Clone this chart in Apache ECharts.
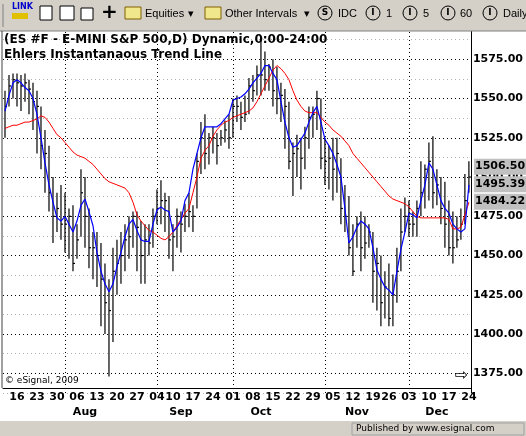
<!DOCTYPE html>
<html>
<head>
<meta charset="utf-8">
<script src="https://cdn.jsdelivr.net/npm/echarts@6/dist/echarts.min.js"></script>
<style>html,body{margin:0;padding:0;background:#fff}#chart{width:526px;height:436px}</style>
</head>
<body>
<div id="chart"></div>
<script>
// trading days Jul 11 - Dec 24 2007, one list per week
const weeks = [
  ["07-11","07-12","07-13"],
  ["07-16","07-17","07-18","07-19","07-20"],
  ["07-23","07-24","07-25","07-26","07-27"],
  ["07-30","07-31","08-01","08-02","08-03"],
  ["08-06","08-07","08-08","08-09","08-10"],
  ["08-13","08-14","08-15","08-16","08-17"],
  ["08-20","08-21","08-22","08-23","08-24"],
  ["08-27","08-28","08-29","08-30","08-31"],
  ["09-04","09-05","09-06","09-07"],
  ["09-10","09-11","09-12","09-13","09-14"],
  ["09-17","09-18","09-19","09-20","09-21"],
  ["09-24","09-25","09-26","09-27","09-28"],
  ["10-01","10-02","10-03","10-04","10-05"],
  ["10-08","10-09","10-10","10-11","10-12"],
  ["10-15","10-16","10-17","10-18","10-19"],
  ["10-22","10-23","10-24","10-25","10-26"],
  ["10-29","10-30","10-31","11-01","11-02"],
  ["11-05","11-06","11-07","11-08","11-09"],
  ["11-12","11-13","11-14","11-15","11-16"],
  ["11-19","11-20","11-21","11-23"],
  ["11-26","11-27","11-28","11-29","11-30"],
  ["12-03","12-04","12-05","12-06","12-07"],
  ["12-10","12-11","12-12","12-13","12-14"],
  ["12-17","12-18","12-19","12-20","12-21"],
  ["12-24"]
];
const dates = [].concat(...weeks);
const weekStarts = weeks.map(w => w[0]);
const monthLabels = {"08-08": "Aug", "09-12": "Sep", "10-10": "Oct", "11-13": "Nov", "12-12": "Dec"};
const monthLines = ["08-01", "09-04", "10-01", "11-01", "12-03"];

const high = [
  1555,1565,1566, 1566,1565,1566,1562,1560, 1555,1545,1530,1520,1500, 1490,1495,1490,1480,1482,
  1470,1505,1500,1480,1465, 1465,1458,1445,1435,1455, 1460,1465,1470,1475,1478, 1478,1472,1470,1470,1480,
  1492,1498,1490,1488, 1470,1480,1478,1483,1490, 1482,1515,1535,1540,1528, 1532,1528,1530,1536,1540,
  1550,1552,1548,1552,1563, 1565,1571,1588,1580,1572, 1575,1570,1560,1556,1548, 1522,1527,1525,1532,1545,
  1545,1555,1550,1525,1520, 1525,1525,1512,1495,1488, 1470,1475,1478,1475,1470, 1465,1455,1450,1440,
  1445,1438,1455,1480,1487, 1485,1478,1485,1510,1508, 1522,1526,1505,1500,1497, 1485,1478,1475,1480,1502, 1510
];
const low = [
  1525,1545,1550, 1545,1542,1548,1540,1530, 1515,1505,1490,1478,1458, 1465,1460,1452,1448,1440,
  1448,1462,1455,1442,1435, 1430,1405,1400,1373,1395, 1425,1432,1440,1448,1455, 1440,1432,1432,1450,1455,
  1470,1470,1465,1448, 1440,1455,1452,1465,1468, 1465,1480,1502,1505,1508, 1515,1508,1520,1522,1518,
  1525,1535,1530,1535,1540, 1548,1552,1552,1555,1555, 1545,1540,1535,1518,1505, 1488,1500,1492,1505,1518,
  1525,1530,1505,1495,1492, 1485,1490,1470,1465,1450, 1437,1455,1440,1448,1455, 1420,1415,1405,1410,
  1405,1405,1420,1440,1465, 1462,1462,1462,1475,1480, 1485,1480,1482,1470,1455, 1450,1445,1455,1460,1470, 1490
];
const close = [
  1545,1558,1562, 1560,1558,1560,1556,1548, 1545,1520,1515,1490,1475, 1480,1470,1470,1475,1445,
  1460,1490,1475,1455,1455, 1450,1435,1420,1415,1440, 1445,1450,1460,1462,1475, 1468,1450,1460,1458,1475,
  1480,1485,1485,1460, 1462,1475,1470,1475,1478, 1475,1510,1525,1515,1525, 1525,1520,1525,1530,1525,
  1545,1545,1538,1540,1558, 1555,1565,1565,1562,1570, 1555,1550,1552,1545,1510, 1515,1518,1512,1525,1538,
  1540,1550,1512,1510,1512, 1505,1515,1480,1475,1455, 1440,1470,1455,1458,1465, 1440,1445,1420,1430,
  1410,1425,1440,1465,1475, 1470,1470,1480,1490,1505, 1510,1490,1495,1480,1470, 1455,1455,1460,1470,1485, 1500
];
const trend = [ // blue
  1542,1552,1560, 1562,1560,1557,1555,1550, 1540,1525,1509,1495,1484, 1474,1472,1475,1470,1465,
  1472,1482,1486,1478,1469, 1452,1440,1432,1427,1432, 1443,1452,1462,1470,1473, 1466,1460,1459,1459,1470,
  1479,1481,1479,1478, 1465,1468,1472,1485,1490, 1505,1515,1525,1532,1532, 1532,1532,1534,1537,1540,
  1549,1550,1551,1553,1556, 1560,1563,1566,1571,1571, 1566,1562,1548,1535,1525, 1519,1520,1524,1528,1535,
  1541,1545,1535,1524,1520, 1515,1508,1500,1480,1458, 1462,1468,1472,1470,1467, 1455,1441,1435,1430,
  1428,1425,1440,1454,1465, 1477,1476,1474,1485,1495, 1509,1505,1495,1485,1480, 1477,1470,1467,1465,1467, 1495
];
const itrend = [ // red
  1531,1532,1533, 1533,1534,1535,1535,1536, 1537,1539,1538,1535,1531, 1527,1525,1522,1519,1516,
  1514,1513,1512,1510,1508, 1505,1502,1499,1497,1496, 1495,1494,1493,1490,1484, 1476,1472,1469,1466,1465,
  1463,1461,1460,1462, 1465,1469,1473,1477,1480, 1490,1500,1512,1517,1520, 1526,1530,1533,1535,1536,
  1538,1539,1540,1541,1542, 1544,1548,1553,1558,1563, 1568,1571,1569,1566,1562, 1555,1549,1545,1542,1541,
  1541,1541,1538,1535,1533, 1530,1528,1526,1523,1520, 1515,1512,1509,1506,1503, 1500,1497,1494,1491,
  1488,1486,1485,1484,1483, 1481,1478,1475,1474,1474, 1474,1474,1474,1474,1474, 1473,1467,1467,1468,1476, 1484
];
const lastValues = [1506.50, 1495.39, 1484.22];

const FONT = "DejaVu Sans";
const chart = echarts.init(document.getElementById("chart"));

const bars = dates.map((d, i) => [i, high[i], low[i], close[i]]);

const option = {
  animation: false,
  backgroundColor: "#fff",
  grid: {left: 3, right: 53, top: 20, bottom: 43, show: false},
  xAxis: [{
    type: "category", data: dates, offset: -5,
    axisLine: {lineStyle: {color: "#000", width: 1}},
    axisTick: {show: false},
    axisLabel: {
      interval: (i, v) => weekStarts.includes(v),
      formatter: v => v.slice(3),
      color: "#000", fontFamily: FONT, fontWeight: "bold", fontSize: 11, margin: 4
    },
    splitLine: {show: false}
  }, {
    type: "category", data: dates, position: "bottom", offset: 10,
    axisLine: {show: false}, axisTick: {show: false},
    axisLabel: {
      interval: (i, v) => v in monthLabels,
      formatter: v => monthLabels[v] || "",
      color: "#000", fontFamily: FONT, fontWeight: "bold", fontSize: 11, margin: 4
    }
  }],
  yAxis: {
    type: "value", position: "right", min: 1362.5, max: 1600, interval: 12.5,
    axisLine: {show: true, lineStyle: {color: "#000"}},
    axisTick: {show: false},
    axisLabel: {
      formatter: v => (v % 25 === 0 ? v.toFixed(2) : ""),
      color: "#000", fontFamily: FONT, fontWeight: "bold", fontSize: 11, margin: 2
    },
    splitLine: {lineStyle: {color: ["#b0b0b0", "#000"], type: [1, 3]}}
  },
  series: [{
    type: "custom",
    data: bars,
    z: 2,
    renderItem: (params, api) => {
      const x = api.coord([api.value(0), api.value(1)])[0];
      const yh = api.coord([api.value(0), api.value(1)])[1];
      const yl = api.coord([api.value(0), api.value(2)])[1];
      const yc = api.coord([api.value(0), api.value(3)])[1];
      const s = {stroke: "#000", lineWidth: 1.2};
      return {type: "group", children: [
        {type: "line", shape: {x1: x, y1: yh, x2: x, y2: yl}, style: s},
        {type: "line", shape: {x1: x, y1: yc, x2: x + 2, y2: yc}, style: s}
      ]};
    },
    markLine: {
      silent: true, symbol: "none", label: {show: false},
      lineStyle: {color: "#000", type: [1, 3], width: 1},
      data: monthLines.map(m => ({xAxis: m}))
    }
  }, {
    type: "line", data: itrend, showSymbol: false, z: 3,
    lineStyle: {color: "#ff0000", width: 1}
  }, {
    type: "line", data: trend, showSymbol: false, z: 4,
    lineStyle: {color: "#0000ff", width: 1.2}
  }]
};
chart.setOption(option);

// toolbar, titles and price boxes
const gray = "#d4d0c8";
const TBF = "11px 'Liberation Sans'";
const withZ = (z, items) => items.map(it => Object.assign(it, {z: z}));
const tb = (x, t) => ({type: "text", x: x, y: 8, style: {text: t, font: TBF, fill: "#000"}});
const circ = (x, t) => [
  {type: "circle", shape: {cx: x, cy: 13, r: 7}, style: {fill: "none", stroke: "#000"}},
  {type: "text", x: x, y: 13, style: {text: t, font: "bold 9px " + FONT, fill: "#000", align: "center", verticalAlign: "middle"}}
];
const boxes = [];
lastValues.forEach(v => {
  const y = chart.convertToPixel({yAxisIndex: 0}, v);
  boxes.push({type: "rect", shape: {x: 474, y: y - 8, width: 52, height: 16}, style: {fill: "#c0c0c0"}});
  boxes.push({type: "text", x: 475, y: y - 6, style: {text: v.toFixed(2), font: "bold 11px " + FONT, fill: "#000"}});
});
chart.setOption({graphic: [
  ...withZ(100, [
    {type: "rect", shape: {x: 0, y: 0, width: 526, height: 31}, style: {fill: gray}},
    {type: "rect", shape: {x: 0, y: 421, width: 526, height: 15}, style: {fill: gray}},
    {type: "rect", shape: {x: 474, y: 166, width: 52, height: 4}, style: {fill: "#fff"}}
  ]),
  ...withZ(101, [
    {type: "line", shape: {x1: 0, y1: 31, x2: 526, y2: 31}, style: {stroke: "#808080"}},
    {type: "line", shape: {x1: 2, y1: 31, x2: 2, y2: 388}, style: {stroke: "#404040"}},
    {type: "line", shape: {x1: 3, y1: 4, x2: 3, y2: 27}, style: {stroke: "#808080"}},
    {type: "text", x: 12, y: 3, style: {text: "LINK", font: "bold 8px " + FONT, fill: "#0000cc"}},
    {type: "rect", shape: {x: 12, y: 13, width: 16, height: 6}, style: {fill: "#e0c000"}},
    {type: "rect", shape: {x: 40, y: 6, width: 12, height: 14}, style: {fill: "#fff", stroke: "#000"}},
    {type: "rect", shape: {x: 60, y: 6, width: 14, height: 14}, style: {fill: "#fff", stroke: "#000"}},
    {type: "rect", shape: {x: 81, y: 8, width: 12, height: 12}, style: {fill: "#fff", stroke: "#000"}},
    {type: "text", x: 101, y: 3, style: {text: "+", font: "bold 20px " + FONT, fill: "#000"}},
    {type: "rect", shape: {x: 125, y: 7, width: 16, height: 12}, style: {fill: "#f0e68c", stroke: "#806000"}},
    tb(145, "Equities"), tb(188, "\u25be"),
    {type: "rect", shape: {x: 205, y: 7, width: 16, height: 12}, style: {fill: "#f0e68c", stroke: "#806000"}},
    tb(225, "Other Intervals"), tb(304, "\u25be"),
    ...circ(325, "S"), tb(338, "IDC"),
    ...circ(373, "I"), tb(386, "1"),
    ...circ(410, "I"), tb(423, "5"),
    ...circ(448, "I"), tb(460, "60"),
    ...circ(490, "I"), tb(503, "Daily"),
    {type: "rect", shape: {x: 352, y: 423, width: 172, height: 12}, style: {fill: gray, stroke: "#a0a0a0"}},
    {type: "text", x: 356, y: 424, style: {text: "Published by www.esignal.com", font: "9px " + FONT, fill: "#000"}}
  ]),
  ...withZ(50, [
    {type: "text", x: 4, y: 34, style: {text: "(ES #F - E-MINI S&P 500,D) Dynamic,0:00-24:00", font: "bold 12px " + FONT, fill: "#000"}},
    {type: "text", x: 4, y: 49, style: {text: "Ehlers Instantanaous Trend Line", font: "bold 12px " + FONT, fill: "#000"}},
    {type: "text", x: 5, y: 376, style: {text: "\u00a9 eSignal, 2009", font: "9px " + FONT, fill: "#000"}},
    {type: "text", x: 455, y: 368, style: {text: "\u21e8", font: "16px " + FONT, fill: "#000"}}
  ]),
  ...withZ(120, boxes)
]});
</script>
</body>
</html>
